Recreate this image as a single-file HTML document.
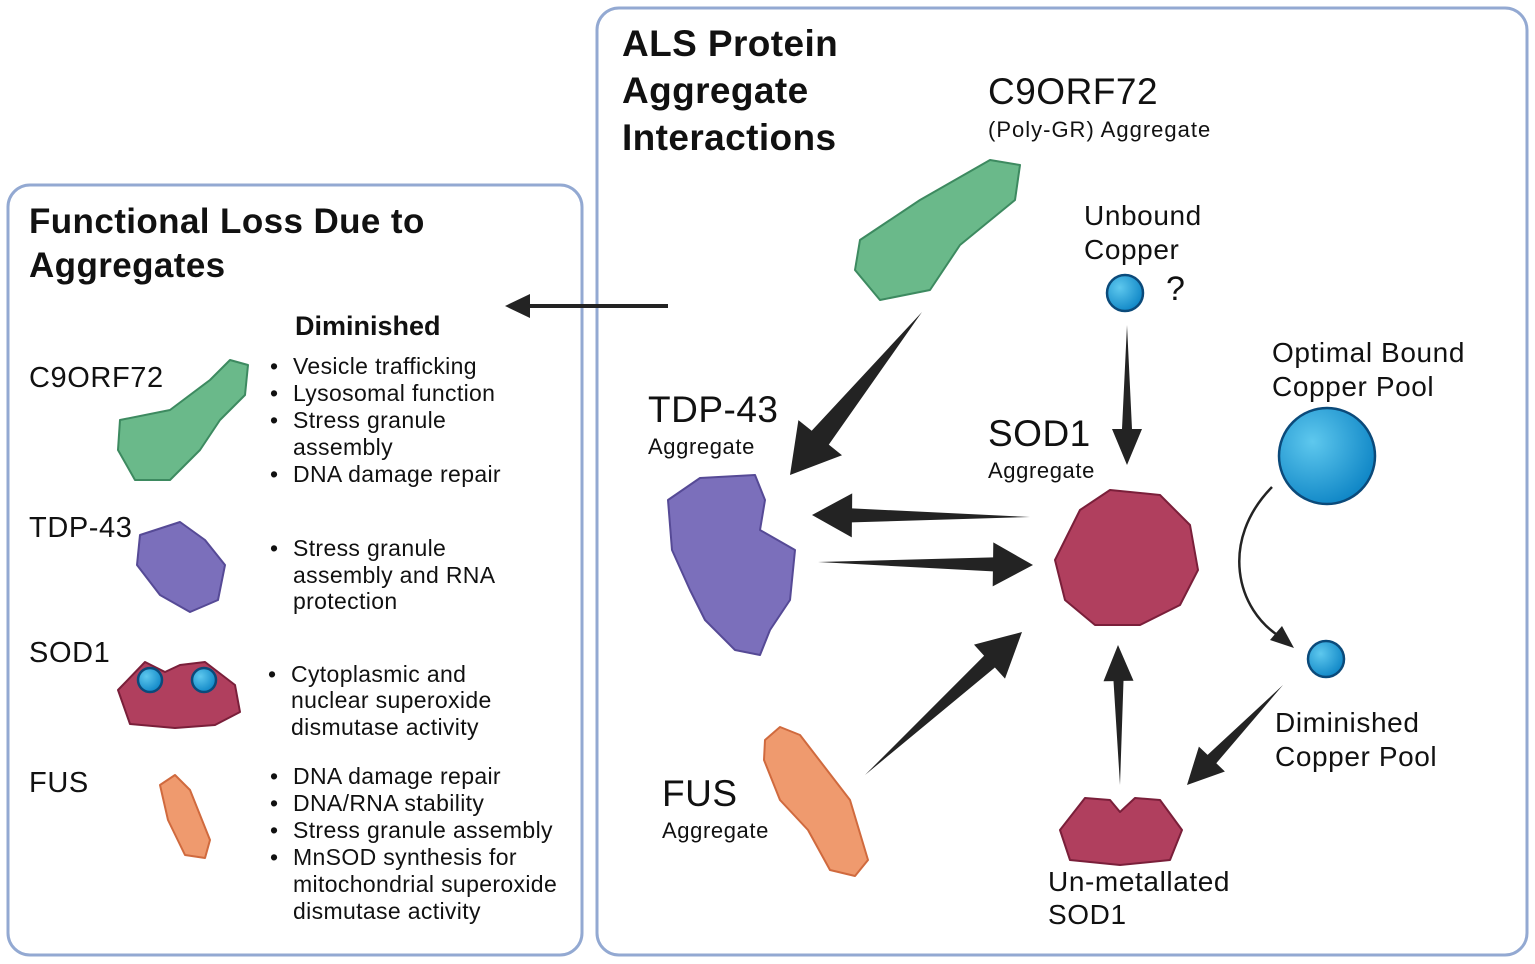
<!DOCTYPE html>
<html><head><meta charset="utf-8"><style>
html,body{margin:0;padding:0;background:#fff}
svg{display:block}
text{font-family:"Liberation Sans",sans-serif;fill:#111}
.b{font-weight:bold}
.big{letter-spacing:0.5px}
.sm{letter-spacing:0.6px}
</style></head><body>
<svg id="s" width="1535" height="964" viewBox="0 0 1535 964" xmlns="http://www.w3.org/2000/svg">
<rect x="8" y="185" width="574" height="770" rx="22" fill="none" stroke="#93a9d2" stroke-width="3"/>
<rect x="597" y="8" width="930" height="947" rx="22" fill="none" stroke="#93a9d2" stroke-width="3"/>

<g class="b" style="letter-spacing:0.4px">
<text x="622" y="56" font-size="37">ALS Protein</text>
<text x="622" y="103" font-size="37">Aggregate</text>
<text x="622" y="150" font-size="37">Interactions</text>
<text x="29" y="233" font-size="35">Functional Loss Due to</text>
<text x="29" y="277" font-size="35">Aggregates</text>
</g>

<text x="988" y="104" font-size="37" class="big">C9ORF72</text>
<text x="988" y="137" font-size="22" style="letter-spacing:1px">(Poly-GR) Aggregate</text>
<text x="1084" y="225" font-size="28" class="sm">Unbound</text>
<text x="1084" y="259" font-size="28" class="sm">Copper</text>
<text x="1166" y="300" font-size="34">?</text>
<text x="1272" y="362" font-size="28" class="sm">Optimal Bound</text>
<text x="1272" y="396" font-size="28" class="sm">Copper Pool</text>
<text x="648" y="422" font-size="37" class="big">TDP-43</text>
<text x="648" y="454" font-size="22" class="sm">Aggregate</text>
<text x="988" y="446" font-size="37" class="big">SOD1</text>
<text x="988" y="478" font-size="22" class="sm">Aggregate</text>
<text x="662" y="806" font-size="37" class="big">FUS</text>
<text x="662" y="838" font-size="22" class="sm">Aggregate</text>
<text x="1275" y="732" font-size="28" class="sm">Diminished</text>
<text x="1275" y="766" font-size="28" class="sm">Copper Pool</text>
<text x="1048" y="891" font-size="28" class="sm">Un-metallated</text>
<text x="1048" y="924" font-size="28" class="sm">SOD1</text>

<text x="295" y="335" font-size="27" class="b">Diminished</text>
<text x="29" y="387" font-size="29" class="sm">C9ORF72</text>
<text x="29" y="537" font-size="29" class="sm">TDP-43</text>
<text x="29" y="662" font-size="29" class="sm">SOD1</text>
<text x="29" y="792" font-size="29" class="sm">FUS</text>
<g font-size="23" style="letter-spacing:0.35px">
<text x="270" y="374">•</text><text x="293" y="374">Vesicle trafficking</text>
<text x="270" y="401">•</text><text x="293" y="401">Lysosomal function</text>
<text x="270" y="428">•</text><text x="293" y="428">Stress granule</text>
<text x="293" y="455">assembly</text>
<text x="270" y="482">•</text><text x="293" y="482">DNA damage repair</text>
<text x="270" y="556">•</text><text x="293" y="556">Stress granule</text>
<text x="293" y="583">assembly and RNA</text>
<text x="293" y="609">protection</text>
<text x="268" y="682">•</text><text x="291" y="682">Cytoplasmic and</text>
<text x="291" y="708">nuclear superoxide</text>
<text x="291" y="735">dismutase activity</text>
<text x="270" y="784">•</text><text x="293" y="784">DNA damage repair</text>
<text x="270" y="811">•</text><text x="293" y="811">DNA/RNA stability</text>
<text x="270" y="838">•</text><text x="293" y="838">Stress granule assembly</text>
<text x="270" y="865">•</text><text x="293" y="865">MnSOD synthesis for</text>
<text x="293" y="892">mitochondrial superoxide</text>
<text x="293" y="919">dismutase activity</text>
</g>

<g stroke-linejoin="round">
<g fill="#6ab98a" stroke="#3d8a60" stroke-width="2">
<path d="M860 240 L920 200 L990 160 L1020 165 L1015 200 L960 245 L930 290 L880 300 L855 270 Z"/>
<path d="M120 420 L170 410 L210 380 L230 360 L248 365 L245 395 L220 420 L200 450 L170 480 L135 480 L118 450 Z"/>
</g>
<g fill="#7b6fbb" stroke="#564a96" stroke-width="2">
<path d="M668 500 L700 478 L755 475 L765 500 L760 530 L795 550 L790 600 L770 630 L760 655 L735 650 L705 620 L690 590 L672 550 Z"/>
<path d="M140 535 L180 522 L205 540 L225 565 L218 600 L190 612 L160 595 L137 565 Z"/>
</g>
<g fill="#b03f5e" stroke="#7a1f3a" stroke-width="2">
<path d="M1055 560 L1080 510 L1110 490 L1160 495 L1190 525 L1198 570 L1180 605 L1140 625 L1095 625 L1065 600 Z"/>
<path d="M1060 830 L1085 798 L1110 800 L1120 812 L1135 798 L1160 800 L1182 830 L1170 860 L1120 865 L1070 860 Z"/>
<path d="M118 690 L145 662 L165 672 L180 665 L205 662 L235 685 L240 712 L215 725 L175 728 L130 724 Z"/>
</g>
<g fill="#ef9a6e" stroke="#d06a3e" stroke-width="2">
<path d="M765 740 L780 727 L800 735 L850 800 L868 860 L855 876 L830 870 L808 830 L780 800 L764 760 Z"/>
<path d="M160 785 L175 775 L190 790 L210 840 L205 858 L185 855 L168 820 Z"/>
</g>
</g>
<defs><radialGradient id="g" cx="0.35" cy="0.35" r="0.7"><stop offset="0" stop-color="#5ec8ee"/><stop offset="1" stop-color="#0f86c6"/></radialGradient></defs>
<g fill="url(#g)" stroke="#0b4a7a" stroke-width="2.5">
<circle cx="1125" cy="293" r="18"/>
<circle cx="1327" cy="456" r="48"/>
<circle cx="1326" cy="659" r="18"/>
<circle cx="150" cy="680" r="12"/>
<circle cx="204" cy="680" r="12"/>
</g>

<g id="arr" fill="#232323"></g>
<line x1="668" y1="306" x2="530" y2="306" stroke="#232323" stroke-width="4"/>
<polygon points="505,306 530,294 530,318" fill="#232323"/>
<path d="M1272 487 C1220 540 1235 610 1282 638" fill="none" stroke="#232323" stroke-width="2.5"/>
<polygon points="1294,648 1270,640 1282,626" fill="#232323"/>
</svg>
<script>
var A=[[922,312,790,475,22,56,48],[1030,517,812,515,14,44,40],[818,562,1033,565,14,44,40],[865,775,1022,632,16,46,44],[1120,785,1118,645,10,30,36],[1127,325,1127,465,10,30,36],[1283,685,1187,785,12,36,36]];
var g=document.getElementById('arr'),s='';
A.forEach(function(a){var x1=a[0],y1=a[1],x2=a[2],y2=a[3],w=a[4],hw=a[5],hl=a[6];
var dx=x2-x1,dy=y2-y1,L=Math.hypot(dx,dy),ux=dx/L,uy=dy/L,px=-uy,py=ux;
var bx=x2-ux*hl,by=y2-uy*hl;
var p=[[x1,y1],[bx+px*w/2,by+py*w/2],[bx+px*hw/2,by+py*hw/2],[x2,y2],[bx-px*hw/2,by-py*hw/2],[bx-px*w/2,by-py*w/2]];
s+='<polygon points="'+p.map(function(q){return q[0].toFixed(1)+','+q[1].toFixed(1)}).join(' ')+'"/>';});
g.innerHTML=s;
</script>
</body></html>
